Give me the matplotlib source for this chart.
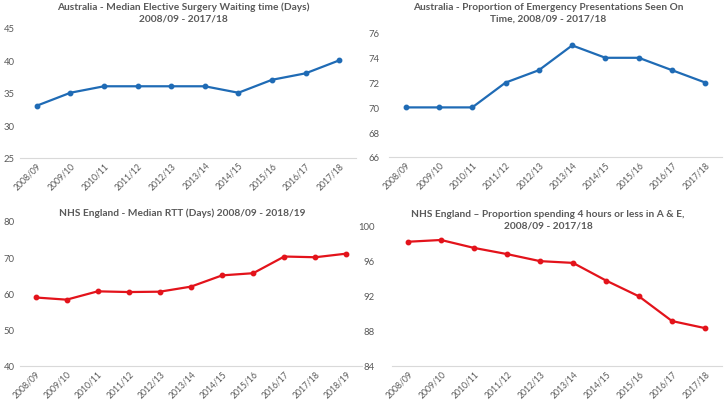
import matplotlib.pyplot as plt
import numpy as np

plt.rcParams['font.family'] = ['Lato', 'DejaVu Sans']

# Data points
years_aus = ['2008/09', '2009/10', '2010/11', '2011/12', '2012/13',
             '2013/14', '2014/15', '2015/16', '2016/17', '2017/18']
years_nhs_rtt = years_aus + ['2018/19']

aus_wait = [33, 35, 36, 36, 36, 36, 35, 37, 38, 40]
aus_ed = [70, 70, 70, 72, 73, 75, 74, 74, 73, 72]
nhs_rtt = [58.9, 58.3, 60.6, 60.4, 60.5, 61.9, 65.0, 65.6, 70.2, 70.0, 71.0]
nhs_ae = [98.1, 98.3, 97.4, 96.7, 95.9, 95.7, 93.7, 91.9, 89.1, 88.3]

BLUE = '#1F6BB5'
RED = '#E3131B'
GREY = '#595959'
W, H = 724, 402

fig = plt.figure(figsize=(W / 100, H / 100), dpi=100)


def add_panel(left, right, top, bottom, labels, values, color, ylim, ystep, ypad):
    ax = fig.add_axes([left / W, 1 - bottom / H, (right - left) / W, (bottom - top) / H])
    x = np.arange(len(values))
    ax.plot(x, values, color=color, lw=1.6, marker='o', ms=3.2)
    ax.set_xlim(-0.5, len(values) - 0.5)
    ax.set_ylim(*ylim)
    ax.set_yticks(np.arange(ylim[0], ylim[1] + 0.1, ystep))
    ax.set_xticks(x)
    ax.set_xticklabels(labels, rotation=45, ha='right', rotation_mode='anchor')
    for s in ['top', 'right', 'left']:
        ax.spines[s].set_visible(False)
    ax.spines['bottom'].set_color('#D9D9D9')
    ax.spines['bottom'].set_linewidth(0.8)
    ax.tick_params(axis='both', length=0, colors=GREY)
    ax.tick_params(axis='x', pad=2, labelsize=6.2)
    ax.tick_params(axis='y', pad=ypad, labelsize=6.8)
    ax.set_facecolor('none')
    return ax


add_panel(20, 356, 29, 158.5, years_aus, aus_wait, BLUE, (25, 45), 5, 4)
add_panel(389, 722, 34, 158, years_aus, aus_ed, BLUE, (66, 76), 2, 7)
add_panel(20, 362, 222, 367, years_nhs_rtt, nhs_rtt, RED, (40, 80), 10, 4)
add_panel(391.5, 721.5, 226, 367, years_aus, nhs_ae, RED, (84, 100), 4, 12)

title_kw = dict(ha='center', va='center', fontsize=7.3, fontweight='bold', color=GREY)
fig.text(183 / W, 1 - 13 / H,
         'Australia - Median Elective Surgery Waiting time (Days)\n2008/09 - 2017/18',
         linespacing=1.4, **title_kw)
fig.text(548 / W, 1 - 13 / H,
         'Australia - Proportion of Emergency Presentations Seen On\nTime, 2008/09 - 2017/18',
         linespacing=1.4, **title_kw)
fig.text(182 / W, 1 - 213 / H,
         'NHS England - Median RTT (Days) 2008/09 - 2018/19', **title_kw)
fig.text(548 / W, 1 - 220 / H,
         'NHS England \u2013 Proportion spending 4 hours or less in A & E,\n2008/09 - 2017/18',
         linespacing=1.4, **title_kw)

plt.savefig('out.png', dpi=100)
